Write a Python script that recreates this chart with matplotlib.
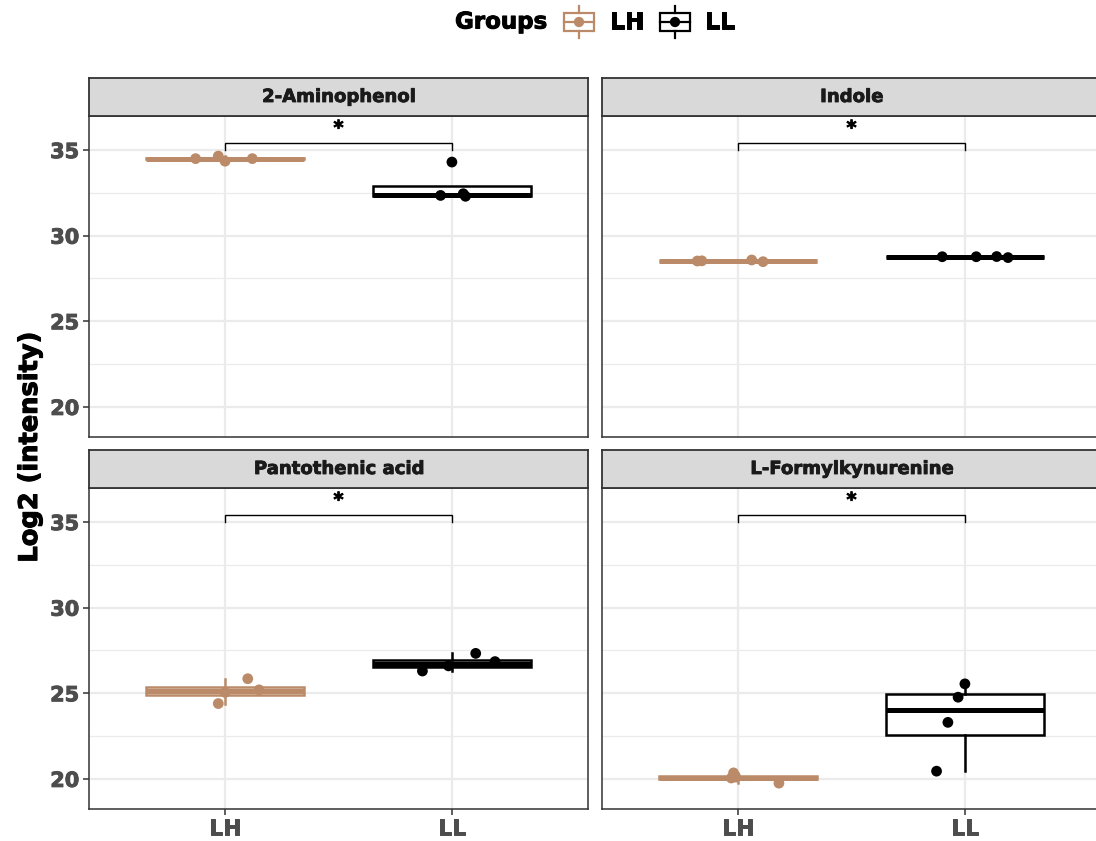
import matplotlib
matplotlib.use("Agg")
import matplotlib.pyplot as plt
from matplotlib.patches import Rectangle
import matplotlib.patheffects as pe
import numpy as np

plt.rcParams['font.family'] = ['DejaVu Sans']

# ---------------- data ----------------
metabolites = ["2-Aminophenol", "Indole", "Pantothenic acid", "L-Formylkynurenine"]
groups = ["LH", "LL"]

aminophenol_LH = [34.50, 34.65, 34.35, 34.50]
aminophenol_LL = [34.30, 32.35, 32.45, 32.30]
indole_LH = [28.52, 28.53, 28.58, 28.48]
indole_LL = [28.77, 28.77, 28.78, 28.72]
pantothenic_LH = [25.85, 24.40, 25.05, 25.20]
pantothenic_LL = [26.30, 26.60, 27.33, 26.85]
formylkyn_LH = [20.35, 20.05, 20.10, 19.75]
formylkyn_LL = [25.55, 24.77, 23.30, 20.45]

# horizontal jitter offsets of the points (category units)
aminophenol_LH_jit = [-0.13, -0.03, 0.00, 0.12]
aminophenol_LL_jit = [0.00, -0.05, 0.05, 0.06]
indole_LH_jit = [-0.18, -0.16, 0.06, 0.11]
indole_LL_jit = [-0.10, 0.05, 0.14, 0.19]
pantothenic_LH_jit = [0.10, -0.03, 0.00, 0.15]
pantothenic_LL_jit = [-0.13, -0.015, 0.105, 0.19]
formylkyn_LH_jit = [-0.02, -0.03, -0.01, 0.18]
formylkyn_LL_jit = [0.00, -0.03, -0.075, -0.125]

panel_values = [
    (aminophenol_LH, aminophenol_LL, aminophenol_LH_jit, aminophenol_LL_jit),
    (indole_LH, indole_LL, indole_LH_jit, indole_LL_jit),
    (pantothenic_LH, pantothenic_LL, pantothenic_LH_jit, pantothenic_LL_jit),
    (formylkyn_LH, formylkyn_LL, formylkyn_LH_jit, formylkyn_LL_jit),
]
signif_labels = ["*", "*", "*", "*"]
yticks = [20, 25, 30, 35]
yminor = [22.5, 27.5, 32.5]

col_LH = "#BB8B69"
col_LL = "#000000"
group_colors = [col_LH, col_LL]

# ---------------- layout (pixels) ----------------
W, H = 1096, 841
fig = plt.figure(figsize=(W / 100, H / 100), dpi=100)

def fig_rect(x0, y0, x1, y1):
    return [x0 / W, 1 - y1 / H, (x1 - x0) / W, (y1 - y0) / H]

def heavy(color, w=0.7):
    return [pe.withStroke(linewidth=w, foreground=color)]

col_x = [(89, 588), (602, 1101)]
row_y = [((78, 116), (116, 437)), ((450, 488), (488, 809))]

ylim = (18.24, 36.99)
xlim = (-0.6, 1.6)
grey_txt = "#4D4D4D"
frame_col = "#333333"

for i, name in enumerate(metabolites):
    r, c = divmod(i, 2)
    (sy0, sy1), (py0, py1) = row_y[r]
    x0, x1 = col_x[c]
    ax = fig.add_axes(fig_rect(x0, py0, x1, py1))
    sax = fig.add_axes(fig_rect(x0, sy0, x1, sy1))
    # strip
    sax.set_facecolor("#D9D9D9")
    sax.set_xticks([]); sax.set_yticks([])
    for sp in sax.spines.values():
        sp.set_color(frame_col); sp.set_linewidth(1.3)
    sax.text(0.5, 0.5, name, transform=sax.transAxes, ha="center", va="center",
             fontsize=13, fontweight="bold", color="#1A1A1A",
             path_effects=heavy("#1A1A1A", 0.6))

    lh, ll, jlh, jll = panel_values[i]
    ax.set_xlim(*xlim); ax.set_ylim(*ylim)
    # grid
    for yv in yticks:
        ax.axhline(yv, color="#EBEBEB", lw=1.6, zorder=0)
    for yv in yminor:
        ax.axhline(yv, color="#EBEBEB", lw=0.9, zorder=0)
    for xv in [0, 1]:
        ax.axvline(xv, color="#EBEBEB", lw=1.6, zorder=0)

    for g, (vals, jit) in enumerate([(lh, jlh), (ll, jll)]):
        colr = group_colors[g]
        ax.boxplot([vals], positions=[g], widths=0.7, showfliers=False,
                   whis=1.5, patch_artist=True, manage_ticks=False,
                   boxprops=dict(facecolor="white", edgecolor=colr, linewidth=1.8),
                   whiskerprops=dict(color=colr, linewidth=1.8),
                   capprops=dict(linewidth=0),
                   medianprops=dict(color=colr, linewidth=3.6, solid_capstyle="butt"),
                   zorder=2)
        ax.scatter(np.array(jit) + g, vals, s=60, color=colr, zorder=3,
                   edgecolors="none")

    # significance bracket
    ax.plot([0, 0, 1, 1], [35.0, 35.43, 35.43, 35.0], color="black", lw=1.0,
            zorder=4, solid_joinstyle="miter")
    ax.text(0.5, 35.7, signif_labels[i], ha="center", va="bottom",
            fontsize=14, fontweight="bold", color="black",
            path_effects=heavy("black", 0.6))

    for sp in ax.spines.values():
        sp.set_color(frame_col); sp.set_linewidth(1.1)
    ax.set_facecolor("white")

    if c == 0:
        ax.set_yticks(yticks)
        ax.set_yticklabels([str(t) for t in yticks], fontsize=15,
                           fontweight="bold", color=grey_txt)
        for t in ax.get_yticklabels():
            t.set_path_effects(heavy(grey_txt, 0.7))
        ax.tick_params(axis="y", length=4, width=1.1, color=frame_col, pad=3)
    else:
        ax.set_yticks([])
    if r == 1:
        ax.set_xticks([0, 1])
        ax.set_xticklabels(groups, fontsize=15.5, fontweight="bold", color=grey_txt)
        for t in ax.get_xticklabels():
            t.set_path_effects(heavy(grey_txt, 0.7))
        ax.tick_params(axis="x", length=4, width=1.1, color=frame_col, pad=3)
    else:
        ax.set_xticks([])

# y label
fig.text(30 / W, 1 - 447 / H, "Log2 (intensity)", rotation=90, ha="center",
         va="center", fontsize=18.5, fontweight="bold", color="black",
         path_effects=heavy("black", 0.8))

# legend (drawn in pixel coordinates)
lax = fig.add_axes(fig_rect(430, 0, 760, 45))
lax.set_xlim(430, 760); lax.set_ylim(45, 0)
lax.axis("off")
lax.text(501, 22, "Groups", ha="center", va="center", fontsize=16.5,
         fontweight="bold", color="black", path_effects=heavy("black", 0.7))
for gx, lab_x, colr, lab in [(579, 610, col_LH, "LH"), (675, 705, col_LL, "LL")]:
    lax.add_patch(Rectangle((gx - 15, 12.5), 30, 18.5, facecolor="white",
                            edgecolor=colr, lw=1.6))
    lax.plot([gx, gx], [6, 12.5], color=colr, lw=1.6)
    lax.plot([gx, gx], [31, 38], color=colr, lw=1.6)
    lax.plot([gx - 15, gx + 15], [22, 22], color=colr, lw=1.6)
    lax.scatter([gx], [22], s=55, color=colr, zorder=3, edgecolors="none")
    lax.text(lab_x, 22, lab, ha="left", va="center", fontsize=16.5,
             fontweight="bold", color="black", path_effects=heavy("black", 0.7))

fig.savefig("out.png", dpi=100)
